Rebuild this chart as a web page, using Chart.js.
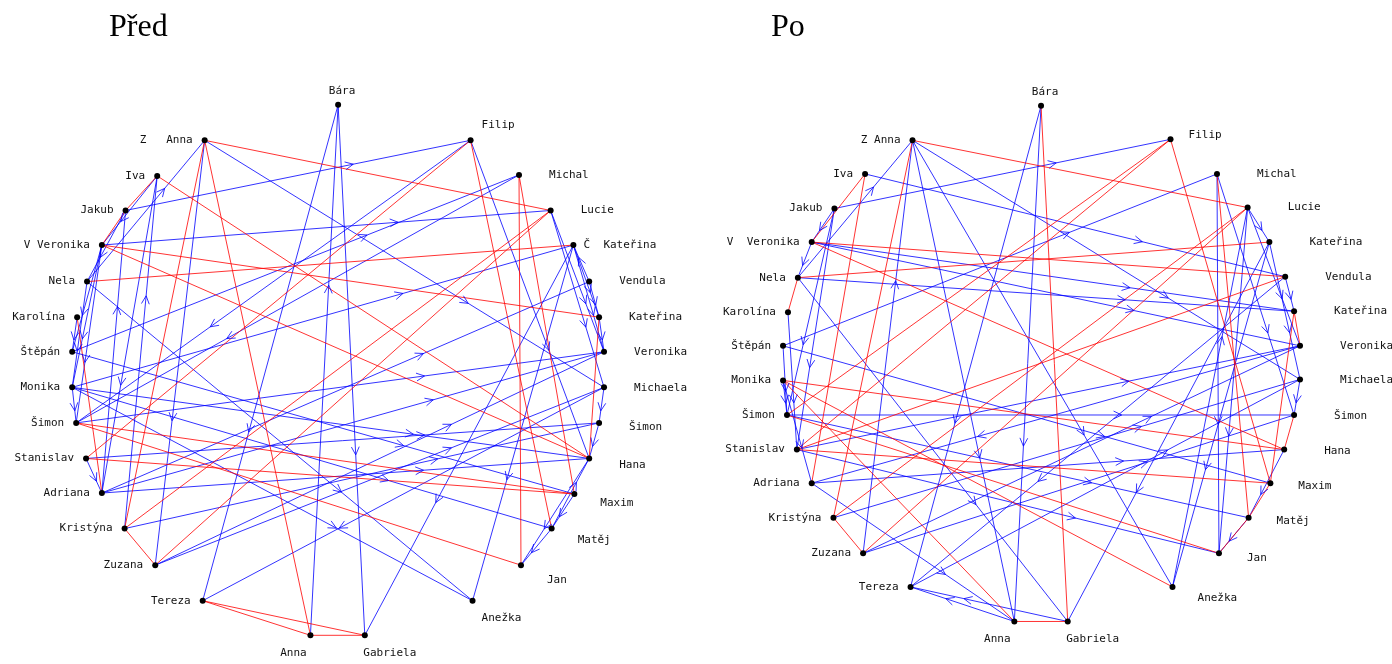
<!DOCTYPE html>
<html>
<head>
<meta charset="utf-8">
<title>Před / Po</title>
<script src="https://cdn.jsdelivr.net/npm/chart.js@4.4.1/dist/chart.umd.min.js"></script>
<style>
  html, body { margin: 0; padding: 0; background: #fff; }
  #wrap { position: relative; width: 1392px; height: 664px; overflow: hidden; }
  canvas { position: absolute; top: 0; }
  #before { left: 0; }
  #after { left: 696px; }
  .title { position: absolute; top: 9px; font: 32px/32px "Liberation Serif", "Times New Roman", serif; color: #000; }
</style>
</head>
<body>
<div id="wrap">
  <canvas id="before" width="696" height="664"></canvas>
  <canvas id="after" width="696" height="664"></canvas>
  <div class="title" style="left:109px">Před</div>
  <div class="title" style="left:771px">Po</div>
</div>
<script>
// node names (same order in both panels)
const beforeLabels = ['Bára', 'Z   Anna', 'Filip', 'Iva', 'Michal', 'Jakub', 'Lucie', 'V Veronika', 'Č  Kateřina',
  'Nela', 'Vendula', 'Karolína', 'Kateřina', 'Štěpán', 'Veronika', 'Monika', 'Michaela', 'Šimon', 'Šimon',
  'Stanislav', 'Hana', 'Adriana', 'Maxim', 'Kristýna', 'Matěj', 'Zuzana', 'Jan', 'Tereza', 'Anežka', 'Anna', 'Gabriela'];
const afterLabels = ['Bára', 'Z Anna', 'Filip', 'Iva', 'Michal', 'Jakub', 'Lucie', 'V  Veronika', 'Kateřina',
  'Nela', 'Vendula', 'Karolína', 'Kateřina', 'Štěpán', 'Veronika', 'Monika', 'Michaela', 'Šimon', 'Šimon',
  'Stanislav', 'Hana', 'Adriana', 'Maxim', 'Kristýna', 'Matěj', 'Zuzana', 'Jan', 'Tereza', 'Anežka', 'Anna', 'Gabriela'];

// node layout values
const beforeX = [338, 203, 472, 155, 521, 123, 553, 99, 576, 84, 592, 74, 602, 69, 607, 69, 607, 73, 602, 83, 592, 99, 577, 122, 554, 153, 523, 201, 474, 310, 365];
const beforeY = [102, 138, 138, 174, 173, 209, 209, 244, 244, 281, 281, 317, 317, 352, 352, 388, 388, 424, 424, 460, 460, 495, 496, 531, 531, 568, 568, 604, 604, 639, 639];
const afterX = [1041, 911, 1172, 863, 1219, 832, 1250, 809, 1272, 795, 1288, 785, 1297, 780, 1303, 780, 1303, 784, 1297, 794, 1287, 809, 1273, 831, 1251, 861, 1221, 909, 1174, 1014, 1068];
const afterY = [103, 138, 137, 172, 172, 207, 206, 241, 241, 277, 276, 312, 311, 346, 346, 381, 380, 416, 416, 451, 451, 485, 485, 520, 520, 556, 556, 590, 590, 625, 625];

// mutual choices (red) and one-way choices from -> to (blue, arrow)
const beforeMutual = [[1, 6], [1, 23], [1, 29], [3, 5], [5, 7], [3, 20], [7, 12], [7, 20], [9, 8], [11, 21], [17, 26], [17, 22],
  [19, 22], [19, 2], [23, 25], [25, 6], [23, 6], [2, 24], [4, 26], [4, 22], [12, 20], [27, 29], [27, 30], [29, 30]];
const beforeOneWay = [[0, 27], [29, 0], [0, 30], [1, 16], [1, 25], [9, 1], [3, 21], [23, 3], [5, 2], [21, 5], [2, 17], [2, 20],
  [4, 17], [13, 4], [6, 16], [6, 14], [8, 30], [8, 28], [8, 12], [8, 14], [10, 8], [21, 10], [16, 27], [19, 18], [25, 14],
  [25, 16], [23, 18], [21, 20], [21, 14], [17, 14], [15, 20], [15, 24], [13, 22], [20, 26], [24, 26], [24, 20], [9, 28],
  [15, 28], [7, 17], [9, 15], [7, 13], [5, 9], [3, 7], [11, 13], [15, 17], [19, 21], [7, 15], [12, 14], [18, 20], [22, 24],
  [10, 12], [16, 18], [7, 6], [15, 8]];
const afterMutual = [[1, 6], [1, 23], [3, 7], [3, 21], [0, 30], [2, 17], [2, 19], [2, 22], [6, 23], [6, 25], [4, 24], [9, 8],
  [7, 10], [7, 20], [12, 14], [18, 20], [12, 22], [15, 20], [15, 28], [19, 22], [17, 26], [15, 29], [29, 30], [23, 25],
  [9, 11], [26, 24], [24, 22], [19, 10]];
const afterOneWay = [[9, 1], [1, 29], [1, 28], [1, 16], [25, 1], [0, 27], [0, 29], [3, 10], [5, 2], [5, 19], [5, 17], [13, 4],
  [4, 26], [4, 18], [6, 26], [6, 14], [8, 30], [8, 28], [28, 6], [27, 16], [29, 27], [30, 27], [21, 29], [23, 16], [25, 18],
  [25, 14], [9, 30], [17, 24], [13, 22], [19, 26], [24, 26], [20, 24], [7, 12], [7, 14], [9, 12], [17, 18], [10, 12],
  [16, 18], [10, 27], [6, 8], [8, 16], [11, 19], [13, 17], [15, 17], [7, 9], [5, 7], [15, 21], [14, 21], [19, 14], [21, 20]];

const RED = 'rgba(255, 0, 0, 0.8)';
const BLUE = 'rgba(0, 0, 255, 0.8)';
const LABEL_FONT = '11px "DejaVu Sans Mono", monospace';

function makeSociogram(canvasId, xs, ys, labels, mutual, oneWay, xMin, look) {
    const nodes = xs.map((x, i) => ({ x: x, y: ys[i] }));
    const edge = (pair, color) => ({
        type: 'line',
        data: [{ x: xs[pair[0]], y: ys[pair[0]] }, { x: xs[pair[1]], y: ys[pair[1]] }],
        borderColor: color,
        borderWidth: 1,
        pointRadius: 0,
        fill: false,
        tension: 0,
        order: 1
    });

    const datasets = [{
        type: 'scatter',
        data: nodes,
        pointRadius: 3,
        pointBackgroundColor: '#000',
        pointBorderWidth: 0,
        order: 0
    }];
    mutual.forEach(p => datasets.push(edge(p, RED)));
    oneWay.forEach(p => datasets.push(edge(p, BLUE)));

    // arrowheads on one-way choices, two thirds of the way to the chosen node
    const arrows = {
        id: 'arrows',
        afterDatasetsDraw(chart) {
            const { ctx, scales } = chart;
            ctx.save();
            ctx.strokeStyle = BLUE;
            ctx.lineWidth = 1;
            oneWay.forEach(([a, b]) => {
                const x1 = scales.x.getPixelForValue(xs[a]), y1 = scales.y.getPixelForValue(ys[a]);
                const x2 = scales.x.getPixelForValue(xs[b]), y2 = scales.y.getPixelForValue(ys[b]);
                const px = x1 + (x2 - x1) * 0.66, py = y1 + (y2 - y1) * 0.66;
                const ang = Math.atan2(y2 - y1, x2 - x1);
                const len = 9, w = 0.45;
                ctx.beginPath();
                ctx.moveTo(px - len * Math.cos(ang - w), py - len * Math.sin(ang - w));
                ctx.lineTo(px, py);
                ctx.lineTo(px - len * Math.cos(ang + w), py - len * Math.sin(ang + w));
                ctx.stroke();
            });
            ctx.restore();
        }
    };

    // names around the circle
    const names = {
        id: 'names',
        afterDatasetsDraw(chart) {
            const { ctx, scales } = chart;
            const cx = scales.x.getPixelForValue((Math.min(...xs) + Math.max(...xs)) / 2);
            const cy = scales.y.getPixelForValue((Math.min(...ys) + Math.max(...ys)) / 2);
            ctx.save();
            ctx.font = LABEL_FONT;
            ctx.fillStyle = '#111';
            ctx.textBaseline = 'middle';
            labels.forEach((text, i) => {
                const px = scales.x.getPixelForValue(xs[i]);
                const py = scales.y.getPixelForValue(ys[i]);
                const dx = px - cx, dy = py - cy, r = Math.hypot(dx, dy);
                const c = dx / r, s = dy / r;
                let tx, ty, align;
                if (Math.abs(c) < 0.25) {
                    align = 'center';
                    if (s < 0) { tx = px + 4; ty = py - 14; }
                    else { tx = px + (dx < 0 ? -17 : 25); ty = py + 18; }
                } else if (dx < 0) {
                    align = 'right'; tx = px - 12; ty = py;
                } else {
                    align = 'left';
                    if (s < -0.8) { tx = px + look.topDx; ty = py + look.topDy; }
                    else if (s > 0.8) { tx = px + look.bottomDx; ty = py + look.bottomDy; }
                    else {
                        tx = px + (s > 0.4 ? look.gapLow : look.gap);
                        ty = py + (s > 0 ? look.drop * s : 0);
                    }
                    // keep the name itself in line, a stray prefix letter sits before it
                    const parts = text.split(/\s+/);
                    if (parts.length > 1) {
                        const name = parts[parts.length - 1];
                        tx -= ctx.measureText(text).width - ctx.measureText(name).width;
                    }
                }
                ctx.textAlign = align;
                ctx.fillText(text, tx, ty);
            });
            ctx.restore();
        }
    };

    return new Chart(document.getElementById(canvasId), {
        type: 'scatter',
        data: { datasets: datasets },
        options: {
            responsive: false,
            animation: false,
            layout: { padding: 0 },
            scales: {
                x: { type: 'linear', min: xMin, max: xMin + 696, display: false },
                y: { type: 'linear', min: 0, max: 664, reverse: true, display: false }
            },
            plugins: { legend: { display: false }, tooltip: { enabled: false } }
        },
        plugins: [arrows, names]
    });
}

makeSociogram('before', beforeX, beforeY, beforeLabels, beforeMutual, beforeOneWay, 0,
    { gap: 30, gapLow: 26, drop: 20, topDx: 11, topDy: -15, bottomDx: 9, bottomDy: 17 });
makeSociogram('after', afterX, afterY, afterLabels, afterMutual, afterOneWay, 696,
    { gap: 40, gapLow: 28, drop: 6, topDx: 18, topDy: -4, bottomDx: 25, bottomDy: 11 });
</script>
</body>
</html>
